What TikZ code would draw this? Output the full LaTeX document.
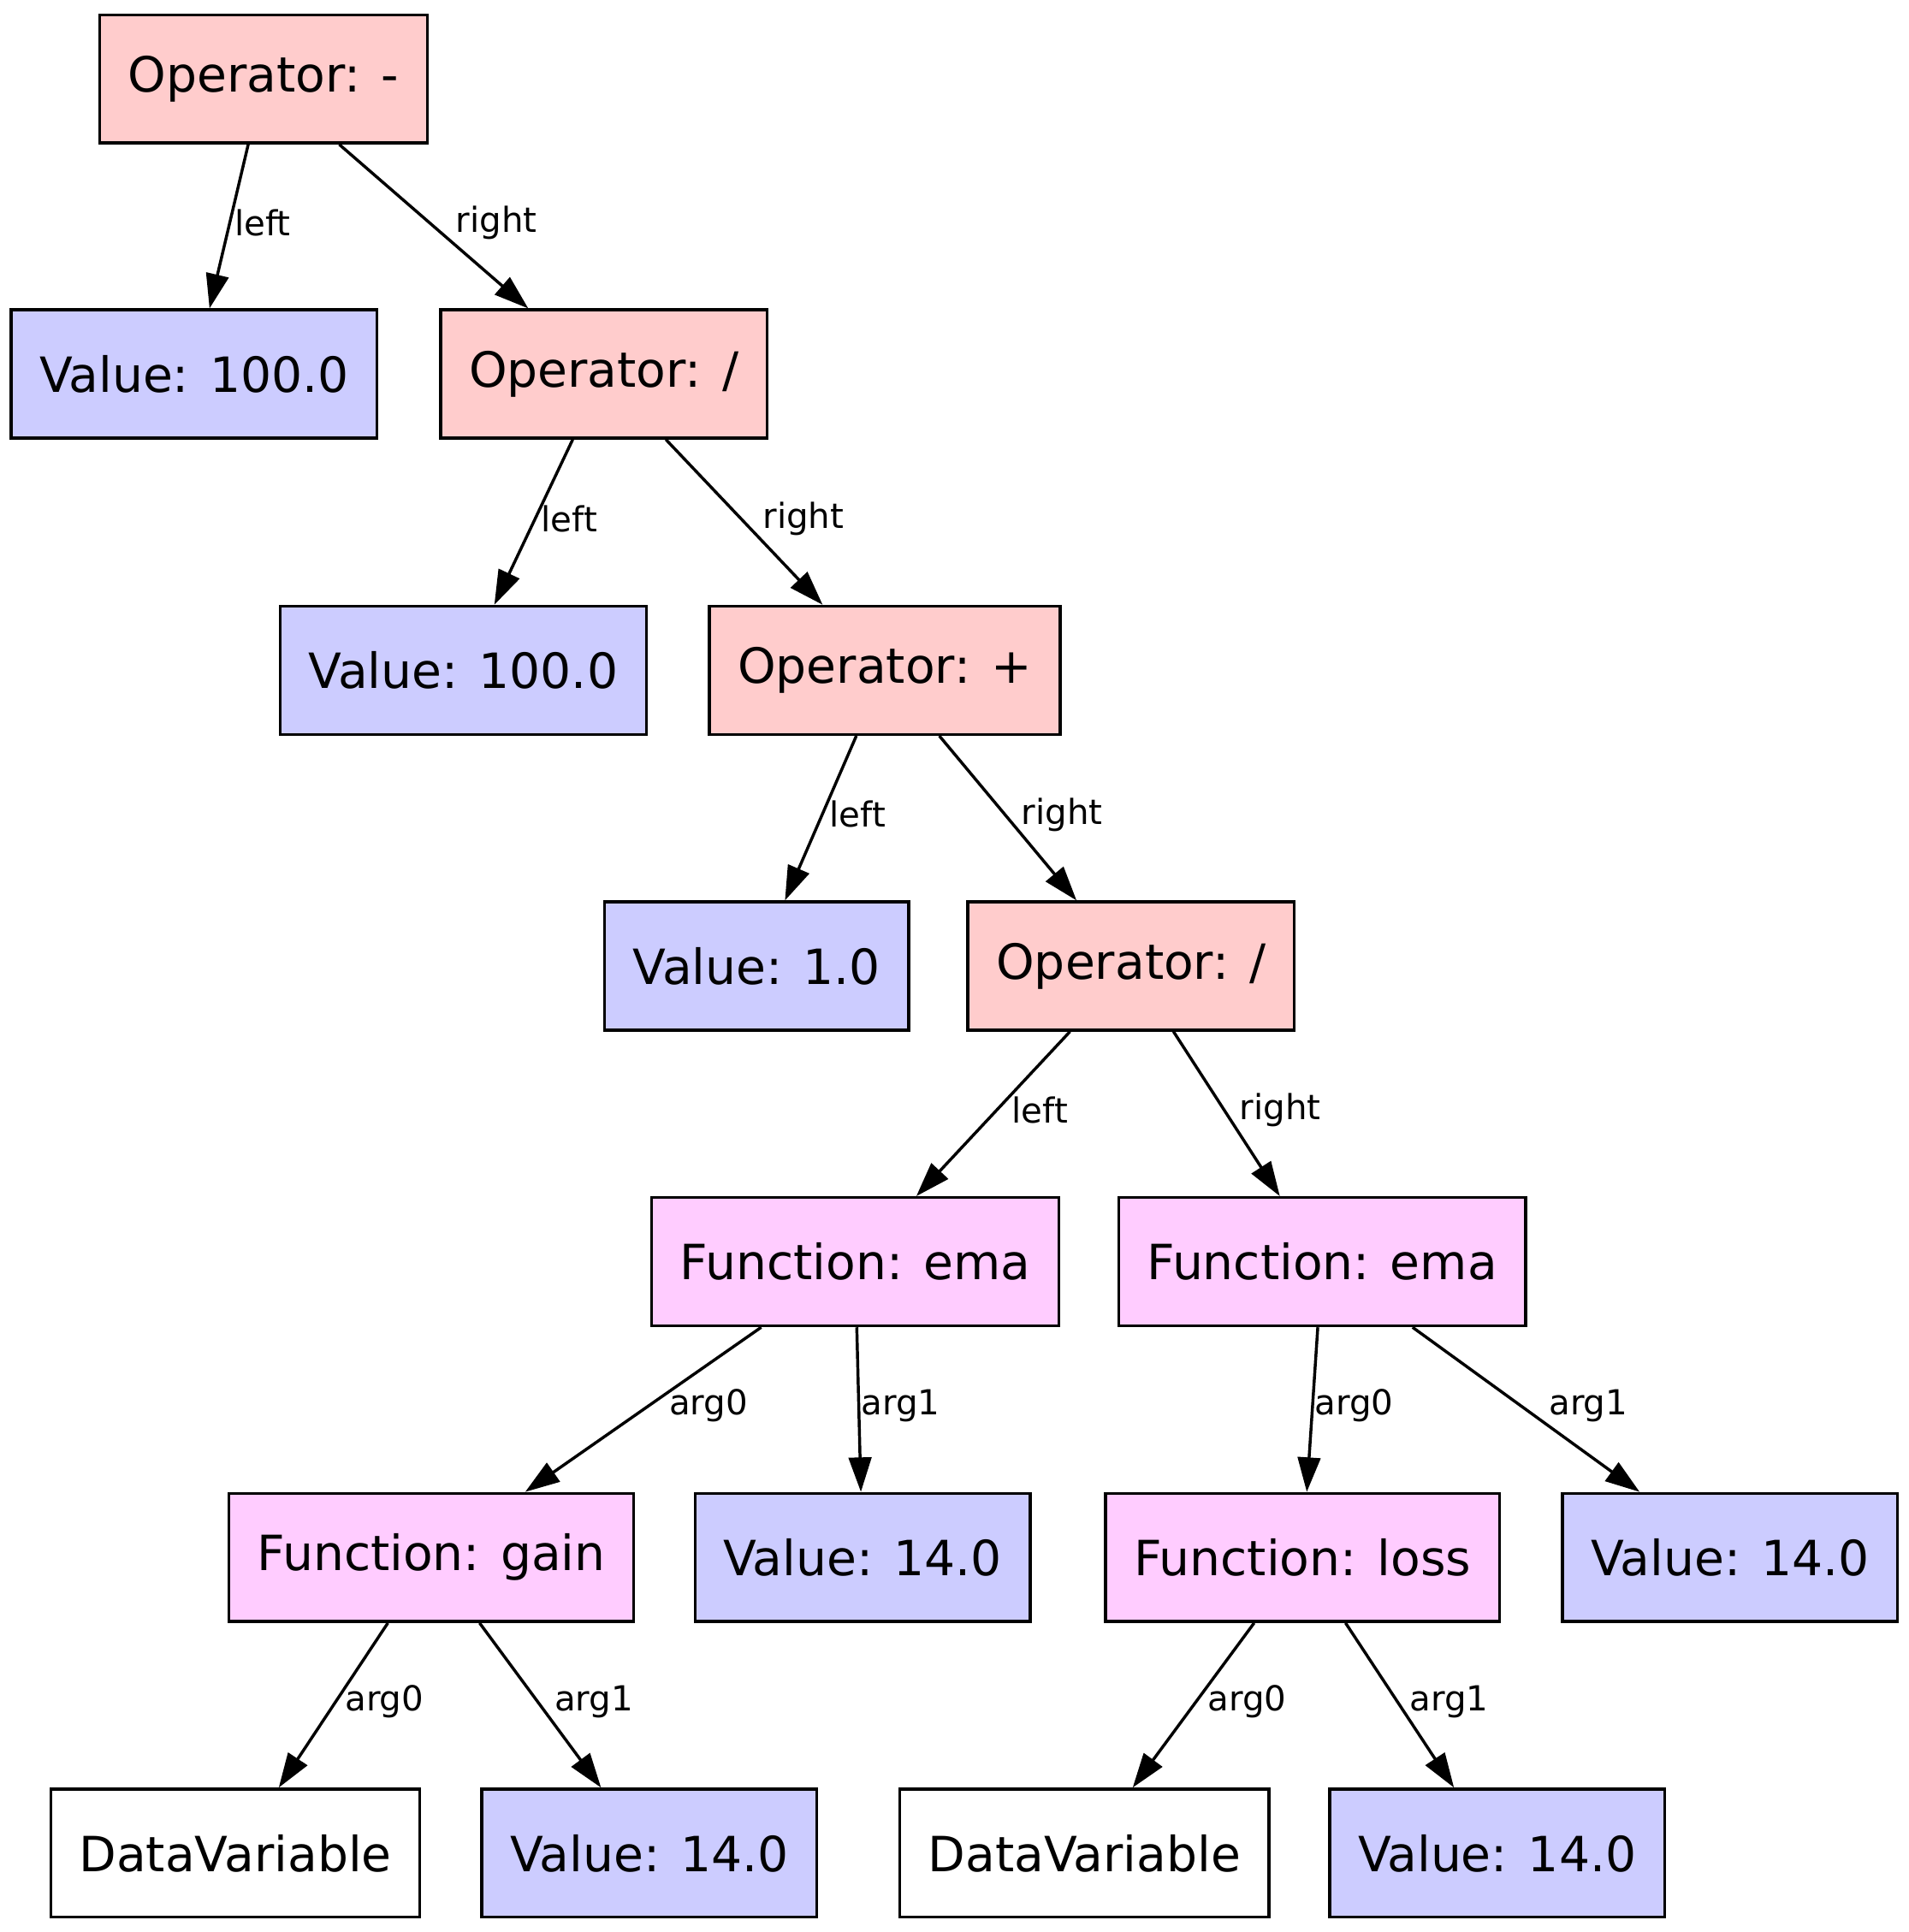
\documentclass[tikz,border=0pt]{standalone}
\usepackage{fontspec}
\setmainfont{DejaVu Sans}
\usetikzlibrary{arrows.meta}
\definecolor{opred}{HTML}{FFCCCC}
\definecolor{valblue}{HTML}{CCCCFF}
\definecolor{funpink}{HTML}{FFCCFF}
\begin{document}
\begin{tikzpicture}[x=0.25pt,y=-0.25pt,>={Triangle[length=7pt,width=4.6pt]},
    box/.style={draw,line width=0.6pt,minimum height=26pt,inner xsep=5.75pt,font=\fontsize{9.85}{12}\selectfont},
    op/.style={box,fill=opred},
    val/.style={box,fill=valblue},
    fun/.style={box,fill=funpink},
    var/.style={box,fill=white},
    lbl/.style={font=\fontsize{7}{8}\selectfont,inner sep=0pt},
    edge/.style={->,line width=0.6pt}]
    \useasboundingbox (0,0) rectangle (1549,1568);
    % operators and values
    \node[op] (minus) at (214,64) {Operator: -};
    \node[val] (hundredA) at (157.5,303.5) {Value: 100.0};
    \node[op] (divA) at (490,303.5) {Operator: /};
    \node[val] (hundredB) at (376,544) {Value: 100.0};
    \node[op] (plus) at (718,544) {Operator: +};
    \node[val] (one) at (614,784) {Value: 1.0};
    \node[op] (divB) at (918,784) {Operator: /};
    % functions
    \node[fun] (emaA) at (694,1024) {Function: ema};
    \node[fun] (emaB) at (1073,1024) {Function: ema};
    \node[fun] (gain) at (350,1264) {Function: gain};
    \node[val] (fourteenA) at (700,1264) {Value: 14.0};
    \node[fun] (loss) at (1057,1264) {Function: loss};
    \node[val] (fourteenB) at (1404,1264) {Value: 14.0};
    \node[var] (dataA) at (191,1504) {DataVariable};
    \node[val] (fourteenC) at (527,1504) {Value: 14.0};
    \node[var] (dataB) at (880,1504) {DataVariable};
    \node[val] (fourteenD) at (1215,1504) {Value: 14.0};
    % edges
    \draw[edge] (minus) -- (hundredA);
    \draw[edge] (minus) -- (divA);
    \draw[edge] (divA) -- (hundredB);
    \draw[edge] (divA) -- (plus);
    \draw[edge] (plus) -- (one);
    \draw[edge] (plus) -- (divB);
    \draw[edge] (divB) -- (emaA);
    \draw[edge] (divB) -- (emaB);
    \draw[edge] (emaA) -- (gain);
    \draw[edge] (emaA) -- (fourteenA);
    \draw[edge] (emaB) -- (loss);
    \draw[edge] (emaB) -- (fourteenB);
    \draw[edge] (gain) -- (dataA);
    \draw[edge] (gain) -- (fourteenC);
    \draw[edge] (loss) -- (dataB);
    \draw[edge] (loss) -- (fourteenD);
    % edge labels
    \node[lbl] at (213,181) {left};
    \node[lbl] at (403,181) {right};
    \node[lbl] at (462,421) {left};
    \node[lbl] at (652,421) {right};
    \node[lbl] at (696,661) {left};
    \node[lbl] at (862,661) {right};
    \node[lbl] at (844,901) {left};
    \node[lbl] at (1039,901) {right};
    \node[lbl] at (575,1141) {arg0};
    \node[lbl] at (731,1141) {arg1};
    \node[lbl] at (1099,1141) {arg0};
    \node[lbl] at (1289,1141) {arg1};
    \node[lbl] at (312,1381) {arg0};
    \node[lbl] at (482,1381) {arg1};
    \node[lbl] at (1012,1381) {arg0};
    \node[lbl] at (1176,1381) {arg1};
\end{tikzpicture}
\end{document}
